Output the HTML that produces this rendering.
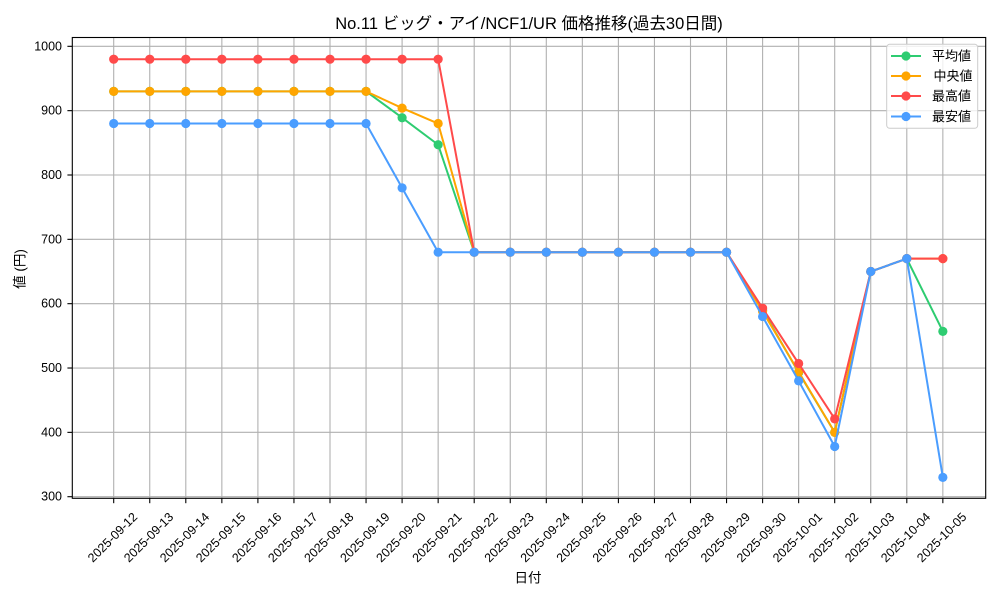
<!DOCTYPE html>
<html><head><meta charset="utf-8"><style>
html,body{margin:0;padding:0;background:#fff;}
svg{display:block;font-family:"Liberation Sans","Noto Sans CJK JP",sans-serif;}
</style></head><body>
<svg width="1000" height="600" viewBox="0 0 1000 600" xmlns="http://www.w3.org/2000/svg">
<defs>
<marker id="mg" markerUnits="userSpaceOnUse" markerWidth="12" markerHeight="12" refX="6" refY="6" overflow="visible"><circle cx="6" cy="6" r="4.6" fill="#2ecc71"/></marker>
<marker id="mo" markerUnits="userSpaceOnUse" markerWidth="12" markerHeight="12" refX="6" refY="6" overflow="visible"><circle cx="6" cy="6" r="4.6" fill="#ffa500"/></marker>
<marker id="mr" markerUnits="userSpaceOnUse" markerWidth="12" markerHeight="12" refX="6" refY="6" overflow="visible"><circle cx="6" cy="6" r="4.6" fill="#ff4a4a"/></marker>
<marker id="mb" markerUnits="userSpaceOnUse" markerWidth="12" markerHeight="12" refX="6" refY="6" overflow="visible"><circle cx="6" cy="6" r="4.6" fill="#4a9dff"/></marker>
</defs>
<rect width="1000" height="600" fill="#fff"/>
<text x="529" y="29" text-anchor="middle" font-size="16.5" fill="#000">No.11 ビッグ・アイ/NCF1/UR 価格推移(過去30日間)</text>
<g stroke="#b0b0b0" stroke-width="1.1">
<line x1="113.7" y1="37.5" x2="113.7" y2="498.3"/><line x1="149.75" y1="37.5" x2="149.75" y2="498.3"/><line x1="185.8" y1="37.5" x2="185.8" y2="498.3"/><line x1="221.85" y1="37.5" x2="221.85" y2="498.3"/><line x1="257.9" y1="37.5" x2="257.9" y2="498.3"/><line x1="293.95" y1="37.5" x2="293.95" y2="498.3"/><line x1="330" y1="37.5" x2="330" y2="498.3"/><line x1="366.05" y1="37.5" x2="366.05" y2="498.3"/><line x1="402.1" y1="37.5" x2="402.1" y2="498.3"/><line x1="438.15" y1="37.5" x2="438.15" y2="498.3"/><line x1="474.2" y1="37.5" x2="474.2" y2="498.3"/><line x1="510.25" y1="37.5" x2="510.25" y2="498.3"/><line x1="546.3" y1="37.5" x2="546.3" y2="498.3"/><line x1="582.35" y1="37.5" x2="582.35" y2="498.3"/><line x1="618.4" y1="37.5" x2="618.4" y2="498.3"/><line x1="654.45" y1="37.5" x2="654.45" y2="498.3"/><line x1="690.5" y1="37.5" x2="690.5" y2="498.3"/><line x1="726.55" y1="37.5" x2="726.55" y2="498.3"/><line x1="762.6" y1="37.5" x2="762.6" y2="498.3"/><line x1="798.65" y1="37.5" x2="798.65" y2="498.3"/><line x1="834.7" y1="37.5" x2="834.7" y2="498.3"/><line x1="870.75" y1="37.5" x2="870.75" y2="498.3"/><line x1="906.8" y1="37.5" x2="906.8" y2="498.3"/><line x1="942.85" y1="37.5" x2="942.85" y2="498.3"/>
<line x1="72.3" y1="46.32" x2="985.7" y2="46.32"/><line x1="72.3" y1="110.66" x2="985.7" y2="110.66"/><line x1="72.3" y1="175" x2="985.7" y2="175"/><line x1="72.3" y1="239.34" x2="985.7" y2="239.34"/><line x1="72.3" y1="303.68" x2="985.7" y2="303.68"/><line x1="72.3" y1="368.02" x2="985.7" y2="368.02"/><line x1="72.3" y1="432.36" x2="985.7" y2="432.36"/><line x1="72.3" y1="496.7" x2="985.7" y2="496.7"/>
</g>
<g fill="none" stroke-width="2" stroke-linejoin="round">
<polyline stroke="#2ecc71" marker-start="url(#mg)" marker-mid="url(#mg)" marker-end="url(#mg)" points="113.7,91.36 149.75,91.36 185.8,91.36 221.85,91.36 257.9,91.36 293.95,91.36 330,91.36 366.05,91.36 402.1,117.74 438.15,144.76 474.2,252.21 510.25,252.21 546.3,252.21 582.35,252.21 618.4,252.21 654.45,252.21 690.5,252.21 726.55,252.21 762.6,310.11 798.65,372.52 834.7,432.36 870.75,271.51 906.8,258.64 942.85,331.35"/>
<polyline stroke="#ffa500" marker-start="url(#mo)" marker-mid="url(#mo)" marker-end="url(#mo)" points="113.7,91.36 149.75,91.36 185.8,91.36 221.85,91.36 257.9,91.36 293.95,91.36 330,91.36 366.05,91.36 402.1,108.09 438.15,123.53 474.2,252.21 510.25,252.21 546.3,252.21 582.35,252.21 618.4,252.21 654.45,252.21 690.5,252.21 726.55,252.21 762.6,311.4 798.65,371.88 834.7,432.36 870.75,271.51 906.8,258.64 942.85,258.64"/>
<polyline stroke="#ff4a4a" marker-start="url(#mr)" marker-mid="url(#mr)" marker-end="url(#mr)" points="113.7,59.19 149.75,59.19 185.8,59.19 221.85,59.19 257.9,59.19 293.95,59.19 330,59.19 366.05,59.19 402.1,59.19 438.15,59.19 474.2,252.21 510.25,252.21 546.3,252.21 582.35,252.21 618.4,252.21 654.45,252.21 690.5,252.21 726.55,252.21 762.6,308.18 798.65,363.52 834.7,418.85 870.75,271.51 906.8,258.64 942.85,258.64"/>
<polyline stroke="#4a9dff" marker-start="url(#mb)" marker-mid="url(#mb)" marker-end="url(#mb)" points="113.7,123.53 149.75,123.53 185.8,123.53 221.85,123.53 257.9,123.53 293.95,123.53 330,123.53 366.05,123.53 402.1,187.87 438.15,252.21 474.2,252.21 510.25,252.21 546.3,252.21 582.35,252.21 618.4,252.21 654.45,252.21 690.5,252.21 726.55,252.21 762.6,316.55 798.65,380.89 834.7,446.51 870.75,271.51 906.8,258.64 942.85,477.4"/>
</g>
<rect x="72.3" y="37.5" width="913.4" height="460.8" fill="none" stroke="#000" stroke-width="1.1"/>
<g stroke="#000" stroke-width="1.1">
<line x1="113.7" y1="498.3" x2="113.7" y2="503.2"/><line x1="149.75" y1="498.3" x2="149.75" y2="503.2"/><line x1="185.8" y1="498.3" x2="185.8" y2="503.2"/><line x1="221.85" y1="498.3" x2="221.85" y2="503.2"/><line x1="257.9" y1="498.3" x2="257.9" y2="503.2"/><line x1="293.95" y1="498.3" x2="293.95" y2="503.2"/><line x1="330" y1="498.3" x2="330" y2="503.2"/><line x1="366.05" y1="498.3" x2="366.05" y2="503.2"/><line x1="402.1" y1="498.3" x2="402.1" y2="503.2"/><line x1="438.15" y1="498.3" x2="438.15" y2="503.2"/><line x1="474.2" y1="498.3" x2="474.2" y2="503.2"/><line x1="510.25" y1="498.3" x2="510.25" y2="503.2"/><line x1="546.3" y1="498.3" x2="546.3" y2="503.2"/><line x1="582.35" y1="498.3" x2="582.35" y2="503.2"/><line x1="618.4" y1="498.3" x2="618.4" y2="503.2"/><line x1="654.45" y1="498.3" x2="654.45" y2="503.2"/><line x1="690.5" y1="498.3" x2="690.5" y2="503.2"/><line x1="726.55" y1="498.3" x2="726.55" y2="503.2"/><line x1="762.6" y1="498.3" x2="762.6" y2="503.2"/><line x1="798.65" y1="498.3" x2="798.65" y2="503.2"/><line x1="834.7" y1="498.3" x2="834.7" y2="503.2"/><line x1="870.75" y1="498.3" x2="870.75" y2="503.2"/><line x1="906.8" y1="498.3" x2="906.8" y2="503.2"/><line x1="942.85" y1="498.3" x2="942.85" y2="503.2"/>
<line x1="67.4" y1="46.32" x2="72.3" y2="46.32"/><line x1="67.4" y1="110.66" x2="72.3" y2="110.66"/><line x1="67.4" y1="175" x2="72.3" y2="175"/><line x1="67.4" y1="239.34" x2="72.3" y2="239.34"/><line x1="67.4" y1="303.68" x2="72.3" y2="303.68"/><line x1="67.4" y1="368.02" x2="72.3" y2="368.02"/><line x1="67.4" y1="432.36" x2="72.3" y2="432.36"/><line x1="67.4" y1="496.7" x2="72.3" y2="496.7"/>
</g>
<g font-size="12.5" fill="#000" text-anchor="end" dominant-baseline="central">
<text x="62" y="46.32">1000</text><text x="62" y="110.66">900</text><text x="62" y="175">800</text><text x="62" y="239.34">700</text><text x="62" y="303.68">600</text><text x="62" y="368.02">500</text><text x="62" y="432.36">400</text><text x="62" y="496.7">300</text>
</g>
<g font-size="12.5" fill="#000" text-anchor="middle" dominant-baseline="central">
<text x="112.7" y="537.5" transform="rotate(-45 112.7 537.5)">2025-09-12</text>
<text x="148.75" y="537.5" transform="rotate(-45 148.75 537.5)">2025-09-13</text>
<text x="184.8" y="537.5" transform="rotate(-45 184.8 537.5)">2025-09-14</text>
<text x="220.85" y="537.5" transform="rotate(-45 220.85 537.5)">2025-09-15</text>
<text x="256.9" y="537.5" transform="rotate(-45 256.9 537.5)">2025-09-16</text>
<text x="292.95" y="537.5" transform="rotate(-45 292.95 537.5)">2025-09-17</text>
<text x="329" y="537.5" transform="rotate(-45 329 537.5)">2025-09-18</text>
<text x="365.05" y="537.5" transform="rotate(-45 365.05 537.5)">2025-09-19</text>
<text x="401.1" y="537.5" transform="rotate(-45 401.1 537.5)">2025-09-20</text>
<text x="437.15" y="537.5" transform="rotate(-45 437.15 537.5)">2025-09-21</text>
<text x="473.2" y="537.5" transform="rotate(-45 473.2 537.5)">2025-09-22</text>
<text x="509.25" y="537.5" transform="rotate(-45 509.25 537.5)">2025-09-23</text>
<text x="545.3" y="537.5" transform="rotate(-45 545.3 537.5)">2025-09-24</text>
<text x="581.35" y="537.5" transform="rotate(-45 581.35 537.5)">2025-09-25</text>
<text x="617.4" y="537.5" transform="rotate(-45 617.4 537.5)">2025-09-26</text>
<text x="653.45" y="537.5" transform="rotate(-45 653.45 537.5)">2025-09-27</text>
<text x="689.5" y="537.5" transform="rotate(-45 689.5 537.5)">2025-09-28</text>
<text x="725.55" y="537.5" transform="rotate(-45 725.55 537.5)">2025-09-29</text>
<text x="761.6" y="537.5" transform="rotate(-45 761.6 537.5)">2025-09-30</text>
<text x="797.65" y="537.5" transform="rotate(-45 797.65 537.5)">2025-10-01</text>
<text x="833.7" y="537.5" transform="rotate(-45 833.7 537.5)">2025-10-02</text>
<text x="869.75" y="537.5" transform="rotate(-45 869.75 537.5)">2025-10-03</text>
<text x="905.8" y="537.5" transform="rotate(-45 905.8 537.5)">2025-10-04</text>
<text x="941.85" y="537.5" transform="rotate(-45 941.85 537.5)">2025-10-05</text>
</g>
<text x="528" y="578" font-size="13.5" text-anchor="middle" dominant-baseline="central" fill="#000">日付</text>
<text x="20" y="269" font-size="13.5" text-anchor="middle" dominant-baseline="central" fill="#000" transform="rotate(-90 20 269)">値 (円)</text>
<rect x="886.7" y="44.3" width="91" height="84" rx="3" ry="3" fill="#fff" fill-opacity="0.8" stroke="#cccccc" stroke-width="1"/>
<g stroke-width="2">
<line x1="891" y1="56" x2="921" y2="56" stroke="#2ecc71"/><circle cx="906" cy="56" r="4.6" fill="#2ecc71"/>
<line x1="891" y1="76" x2="921" y2="76" stroke="#ffa500"/><circle cx="906" cy="76" r="4.6" fill="#ffa500"/>
<line x1="891" y1="96" x2="921" y2="96" stroke="#ff4a4a"/><circle cx="906" cy="96" r="4.6" fill="#ff4a4a"/>
<line x1="891" y1="116.5" x2="921" y2="116.5" stroke="#4a9dff"/><circle cx="906" cy="116.5" r="4.6" fill="#4a9dff"/>
</g>
<g font-size="13" fill="#000" dominant-baseline="central">
<text x="932" y="56">平均値</text>
<text x="933.5" y="76">中央値</text>
<text x="932" y="96">最高値</text>
<text x="932" y="116.5">最安値</text>
</g>
</svg>
</body></html>
